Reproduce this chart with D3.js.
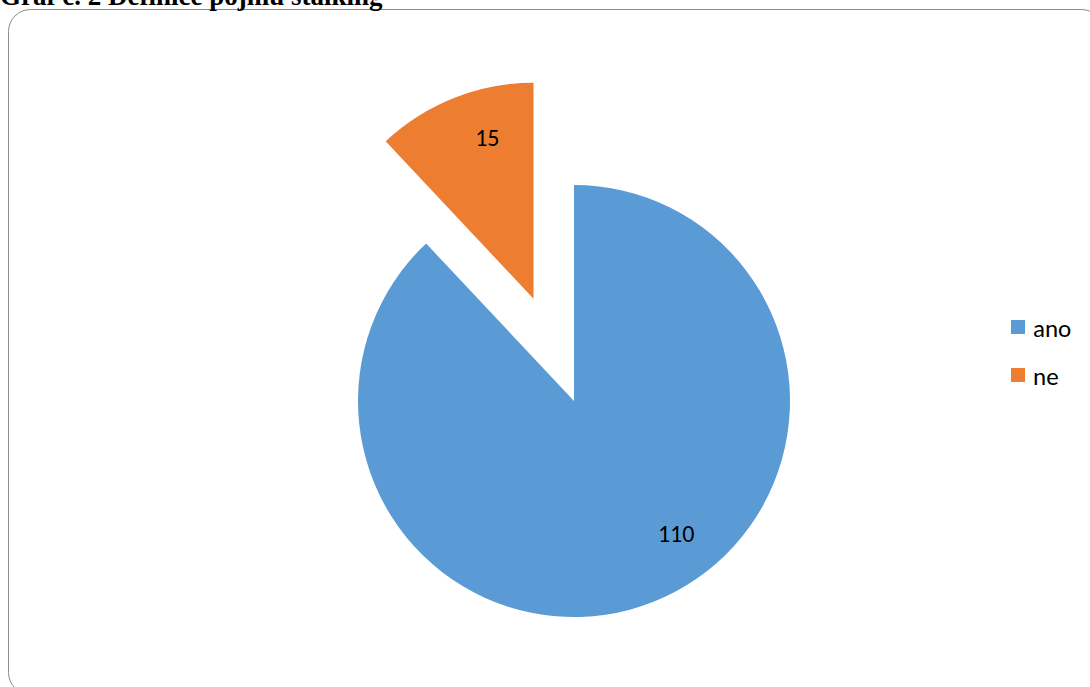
<!DOCTYPE html>
<html>
<head>
<meta charset="utf-8">
<script src="https://cdn.jsdelivr.net/npm/d3@7"></script>
<style>
html,body{margin:0;padding:0;background:#fff;overflow:hidden;}
svg{display:block;}
</style>
</head>
<body>
<svg id="chart" width="1090" height="687"></svg>
<script>
const title = "Graf č. 2 Definice pojmu stalking";
const categories = ["ano", "ne"];
const values = [110, 15];
const colors = ["#5B9BD5", "#ED7D31"];
const explode = [0, 110];

const svg = d3.select("#chart");

// frame
svg.append("rect")
  .attr("x", 8.5).attr("y", 9.5)
  .attr("width", 1095).attr("height", 685)
  .attr("rx", 22).attr("ry", 22)
  .attr("fill", "#fff").attr("stroke", "#8c8c8c").attr("stroke-width", 1);

// title (clipped at top as in the reference)
svg.append("text")
  .attr("x", 0).attr("y", 5)
  .attr("font-family", "'Liberation Serif', 'Times New Roman', serif")
  .attr("font-weight", "bold")
  .attr("font-size", 27)
  .attr("fill", "#000")
  .text(title);

const cx = 574, cy = 401, r = 216;
const pie = d3.pie().sort(null).value(d => d)
  .startAngle(0).endAngle(2 * Math.PI);
const arcs = pie(values);
const arc = d3.arc().innerRadius(0).outerRadius(r);
const labelR = r * 0.775;
// Excel "best fit" label placement: small angular shift from slice middle
const labelShift = [-16 * Math.PI / 180, 5.6 * Math.PI / 180];

const g = svg.append("g").attr("transform", `translate(${cx},${cy})`);

arcs.forEach((a, i) => {
  const mid = (a.startAngle + a.endAngle) / 2;
  const dx = Math.sin(mid) * explode[i], dy = -Math.cos(mid) * explode[i];
  const sg = g.append("g").attr("transform", `translate(${dx},${dy})`);
  sg.append("path").attr("d", arc(a)).attr("fill", colors[i]);
  const la = mid + labelShift[i];
  sg.append("text")
    .attr("x", Math.sin(la) * labelR)
    .attr("y", -Math.cos(la) * labelR)
    .attr("text-anchor", "middle")
    .attr("dominant-baseline", "central")
    .attr("font-family", "Carlito, Lato, 'Open Sans', sans-serif")
    .attr("font-size", 24)
    .attr("fill", "#000")
    .text(values[i]);
});

// legend
const lg = svg.append("g");
categories.forEach((c, i) => {
  const y = 327 + i * 48;
  lg.append("rect").attr("x", 1011).attr("y", y - 7).attr("width", 14).attr("height", 14).attr("fill", colors[i]);
  lg.append("text").attr("x", 1033).attr("y", y + 1)
    .attr("dominant-baseline", "central")
    .attr("font-family", "Carlito, Lato, 'Open Sans', sans-serif")
    .attr("font-size", 25).attr("fill", "#000").text(c);
});
</script>
</body>
</html>
